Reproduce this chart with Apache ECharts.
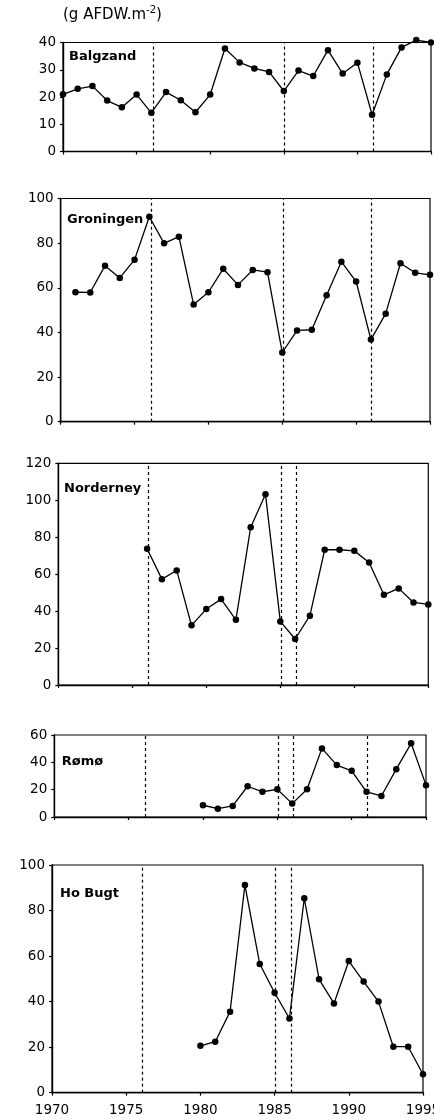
<!DOCTYPE html>
<html>
<head>
<meta charset="utf-8">
<script src="https://cdn.jsdelivr.net/npm/echarts@6/dist/echarts.min.js"></script>
<style>
html,body{margin:0;padding:0;background:#fff;}
#chart{width:434px;height:1120px;}
</style>
</head>
<body>
<div id="chart"></div>
<script>
// ---- data ----
var years = [1970,1971,1972,1973,1974,1975,1976,1977,1978,1979,1980,1981,1982,1983,1984,1985,1986,1987,1988,1989,1990,1991,1992,1993,1994,1995];
var xTicks = [1970,1975,1980,1985,1990,1995];
var siteNames = ['Balgzand','Groningen','Norderney','Rømø','Ho Bugt'];
var balgzand  = [21,23,24,18.7,16.2,20.9,14.2,21.8,18.8,14.4,20.9,37.8,32.7,30.5,29.2,22.2,29.7,27.7,37.2,28.6,32.6,13.5,28.3,38.2,40.9,40];
var groningen = [null,58,57.9,69.9,64.4,72.6,91.8,79.9,82.9,52.5,58,68.5,61.3,68,67,31,40.9,41.2,56.7,71.7,62.8,36.8,48.4,71,66.7,65.8];
var norderney = [null,null,null,null,null,null,73.7,57.3,62,32.3,41.1,46.5,35.3,85.4,103.2,34.4,24.9,37.5,73.2,73.2,72.6,66.3,48.8,52.3,44.7,43.6];
var romo      = [null,null,null,null,null,null,null,null,null,null,8.6,6.1,8.1,22.5,18.4,20.3,9.8,20.3,50.2,38,33.8,18.4,15.4,35,53.9,23.3];
var hoBugt    = [null,null,null,null,null,null,null,null,null,null,20.6,22.4,35.6,91.2,56.5,43.9,32.6,85.4,49.8,39.2,57.8,48.8,40,20.2,20.2,8.1];
var yMax      = [40,100,120,60,100];
var yStep     = [10,20,20,20,20];
var dashYears = [
  [1976.1,1985.05,1991.05],
  [1976.1,1985.05,1991.05],
  [1976.1,1985.05,1986.1],
  [1976.1,1985.05,1986.1,1991.05],
  [1976.1,1985.05,1986.1]
];
var unitLabel = '(g AFDW.m{sup|-2})';

// ---- layout ----
var seriesVals = [balgzand,groningen,norderney,romo,hoBugt];
var boxes = [
  {l:63,   r:431,   t:42.5, b:151.5},
  {l:60.7, r:430,   t:198.5,b:421.7},
  {l:58.3, r:428.3, t:463.3,b:685},
  {l:54.3, r:426,   t:735,  b:817},
  {l:52,   r:423,   t:865,  b:1092.7}
];
var labelPos = [[69,56.7],[67,219.3],[64,488.3],[61.7,761.7],[60,894]];
var FONT = 'DejaVu Sans';

var grids=[],xAxes=[],yAxes=[],series=[],titles=[];
boxes.forEach(function(b,i){
  grids.push({left:b.l, top:b.t, width:b.r-b.l, height:b.b-b.t, show:true, borderColor:'#000', borderWidth:1.2,
    containLabel:false, outerBoundsMode:'none'});
  xAxes.push({
    type:'value', gridIndex:i, min:1970, max:1995, interval:5,
    axisLine:{show:true,lineStyle:{color:'#000',width:1.4}},
    axisTick:{show:true,inside:false,length:3,lineStyle:{color:'#000',width:1.2}},
    axisLabel:{show:i===4, margin:11, color:'#000', fontFamily:FONT, fontSize:13.5, hideOverlap:false,
      showMinLabel:true, showMaxLabel:true, formatter:function(v){return String(v);}},
    splitLine:{show:false}
  });
  yAxes.push({
    type:'value', gridIndex:i, min:0, max:yMax[i], interval:yStep[i],
    axisLine:{show:true,lineStyle:{color:'#000',width:1.4}},
    axisTick:{show:true,inside:false,length:3,lineStyle:{color:'#000',width:1.2}},
    axisLabel:{show:true, margin:7, color:'#000', fontFamily:FONT, fontSize:13.5},
    splitLine:{show:false}
  });
  var pts = [];
  years.forEach(function(y,k){ if(seriesVals[i][k]!==null) pts.push([y, seriesVals[i][k]]); });
  series.push({
    type:'line', name:siteNames[i], xAxisIndex:i, yAxisIndex:i, data:pts,
    clip:false, symbol:'circle', symbolSize:6.5,
    itemStyle:{color:'#000'}, lineStyle:{color:'#000',width:1.3},
    markLine:{
      silent:true, symbol:['none','none'], label:{show:false},
      lineStyle:{color:'#000',type:[3,3],width:1.2},
      data: dashYears[i].map(function(x){return {xAxis:x};})
    },
    z:3
  });
  titles.push({text:siteNames[i], left:labelPos[i][0], top:labelPos[i][1]-8, padding:0,
    textStyle:{fontFamily:FONT, fontWeight:'bold', fontSize:13, lineHeight:16, color:'#000'}});
});
titles.push({text:unitLabel, left:63, top:5, padding:0,
  textStyle:{fontFamily:FONT, fontWeight:'normal', fontSize:15, lineHeight:20, color:'#000',
    rich:{sup:{fontFamily:FONT, fontSize:10, verticalAlign:'top', lineHeight:20, color:'#000', padding:[0,0,10,0]}}}});

var chart = echarts.init(document.getElementById('chart'), null, {renderer:'canvas'});
chart.setOption({
  animation:false,
  backgroundColor:'#fff',
  title:titles, grid:grids, xAxis:xAxes, yAxis:yAxes, series:series
});
</script>
</body>
</html>
